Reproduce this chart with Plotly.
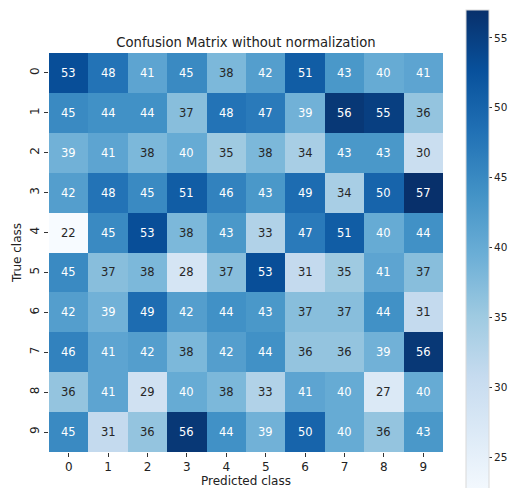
import plotly.graph_objects as go

# Confusion matrix counts (rows: true class, columns: predicted class)
classes = ["0", "1", "2", "3", "4", "5", "6", "7", "8", "9"]
row_0 = [53, 48, 41, 45, 38, 42, 51, 43, 40, 41]
row_1 = [45, 44, 44, 37, 48, 47, 39, 56, 55, 36]
row_2 = [39, 41, 38, 40, 35, 38, 34, 43, 43, 30]
row_3 = [42, 48, 45, 51, 46, 43, 49, 34, 50, 57]
row_4 = [22, 45, 53, 38, 43, 33, 47, 51, 40, 44]
row_5 = [45, 37, 38, 28, 37, 53, 31, 35, 41, 37]
row_6 = [42, 39, 49, 42, 44, 43, 37, 37, 44, 31]
row_7 = [46, 41, 42, 38, 42, 44, 36, 36, 39, 56]
row_8 = [36, 41, 29, 40, 38, 33, 41, 40, 27, 40]
row_9 = [45, 31, 36, 56, 44, 39, 50, 40, 36, 43]
counts = [row_0, row_1, row_2, row_3, row_4, row_5, row_6, row_7, row_8, row_9]

zmin = min(min(r) for r in counts)
zmax = max(max(r) for r in counts)

W, H = 511, 488
ml, mr, mt, mb = 49, 68, 53, 36
plot_w = W - ml - mr
plot_h = H - mt - mb

font_family = "DejaVu Sans"

fig = go.Figure(
    go.Heatmap(
        z=counts,
        x=classes,
        y=classes,
        colorscale="Blues",
        zmin=zmin,
        zmax=zmax,
        xgap=0,
        ygap=0,
        hoverinfo="skip",
        colorbar=dict(
            thickness=23,
            thicknessmode="pixels",
            lenmode="pixels",
            len=489,
            x=(466 - ml) / plot_w,
            xanchor="left",
            xpad=0,
            y=(H - mb - 254.5) / plot_h,
            yanchor="middle",
            ypad=0,
            outlinewidth=1,
            outlinecolor="#d9d9d9",
            ticks="outside",
            ticklen=3,
            tickwidth=1,
            tickcolor="#333",
            tick0=0,
            dtick=5,
            tickfont=dict(family=font_family, size=10.5, color="#222"),
        ),
    )
)

# Cell labels: white on dark cells, dark on light cells
for i, row in enumerate(counts):
    for j, v in enumerate(row):
        frac = (v - zmin) / (zmax - zmin)
        fig.add_annotation(
            x=classes[j],
            y=classes[i],
            text=str(v),
            showarrow=False,
            font=dict(
                family=font_family,
                size=11.5,
                color="#ffffff" if frac > 0.47 else "#262626",
            ),
        )

fig.update_layout(
    width=W,
    height=H,
    margin=dict(l=ml, r=mr, t=mt, b=mb, autoexpand=False),
    paper_bgcolor="white",
    plot_bgcolor="white",
    font=dict(family=font_family, color="#222"),
    title=dict(
        text="Confusion Matrix without normalization",
        x=(ml + plot_w / 2) / W,
        xanchor="center",
        y=1 - 42 / H,
        yanchor="middle",
        font=dict(family=font_family, size=13.2, color="#222"),
    ),
    xaxis=dict(
        title=dict(text="Predicted class", standoff=4,
                   font=dict(family=font_family, size=12, color="#222")),
        ticks="outside",
        ticklen=4,
        tickcolor="#333",
        tickfont=dict(family=font_family, size=12, color="#222"),
        showgrid=False,
        zeroline=False,
        showline=False,
    ),
    yaxis=dict(
        title=dict(text="True class", standoff=4,
                   font=dict(family=font_family, size=12, color="#222")),
        autorange="reversed",
        ticks="outside",
        ticklen=4,
        tickcolor="#333",
        tickangle=-90,
        tickfont=dict(family=font_family, size=12, color="#222"),
        showgrid=False,
        zeroline=False,
        showline=False,
    ),
)

fig.write_html("out.html")
